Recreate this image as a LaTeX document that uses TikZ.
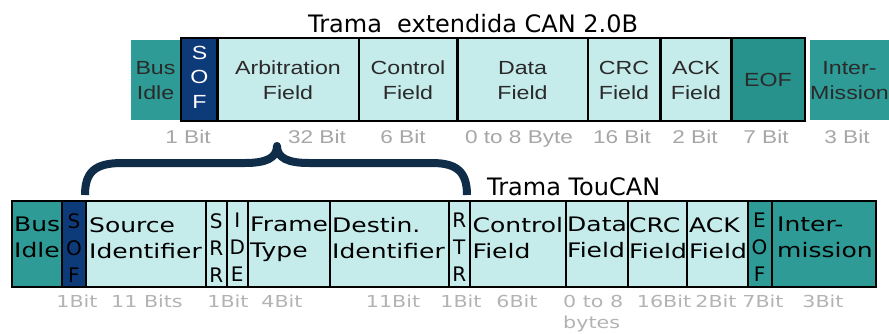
\documentclass[tikz,border=0pt]{standalone}
\usepackage{fontspec}
\setmainfont{DejaVu Sans}
\newfontfamily\dvs{DejaVu Sans}
\newfontfamily\dvsw[FakeStretch=1.25]{DejaVu Sans}
\newfontfamily\lsw[FakeStretch=1.22]{Liberation Sans}
\definecolor{tealA}{HTML}{2E9B96}
\definecolor{tealB}{HTML}{27918B}
\definecolor{navy}{HTML}{0D3B7A}
\definecolor{pale}{HTML}{C6EBEB}
\definecolor{bracec}{HTML}{0F2D48}
\definecolor{toptxt}{HTML}{2A2A2A}
\definecolor{toplbl}{HTML}{A6A6A6}
\definecolor{botlbl}{HTML}{B3B3B3}
\tikzset{
  box/.style={rectangle, inner sep=0, outer sep=0, anchor=north west},
  topfld/.style={box, draw=black, line width=2.5pt, fill=pale},
  botfld/.style={box, draw=black, line width=2pt, fill=pale},
  toptext/.style={inner sep=0, anchor=north, align=center, text=toptxt,
    font=\lsw\fontsize{19}{25}\selectfont},
  bottext/.style={inner sep=0, anchor=north west, align=left, text=black,
    font=\dvsw\fontsize{20}{26}\selectfont},
  vertext/.style={inner sep=0, anchor=north, align=center,
    font=\dvs\fontsize{20}{27}\selectfont},
  toplabel/.style={inner sep=0, anchor=base, text=toplbl,
    font=\lsw\fontsize{18.5}{22}\selectfont},
  botlabel/.style={inner sep=0, anchor=base, text=botlbl,
    font=\dvsw\fontsize{16.5}{21}\selectfont},
  title/.style={inner sep=0, anchor=base west, text=black,
    font=\dvs\fontsize{24}{28}\selectfont},
  brace/.style={draw=bracec, line width=8pt, line join=round, line cap=butt},
}
\begin{document}
\begin{tikzpicture}[x=1pt,y=-1pt]
\useasboundingbox (0,0) rectangle (889,333);

% ---------- extended CAN 2.0B frame ----------
\node[title] (t1) at (308,32) {Trama\ \ extendida CAN 2.0B};

\node[box, fill=tealA, minimum width=49pt, minimum height=80pt] (tbus) at (131,40) {};
\node[topfld, fill=navy, minimum width=36.5pt, minimum height=83pt] (tsof) at (181,38) {};
\node[topfld, minimum width=141.5pt, minimum height=83pt] (tarb) at (217.5,38) {};
\node[topfld, minimum width=98.5pt, minimum height=83pt] (tctl) at (359,38) {};
\node[topfld, minimum width=130.5pt, minimum height=83pt] (tdat) at (457.5,38) {};
\node[topfld, minimum width=72.5pt, minimum height=83pt] (tcrc) at (588,38) {};
\node[topfld, minimum width=71pt, minimum height=83pt] (tack) at (660.5,38) {};
\node[topfld, fill=tealB, minimum width=73.5pt, minimum height=83pt] (teof) at (731.5,38) {};
\node[box, fill=tealA, minimum width=79pt, minimum height=80pt] (tint) at (810,40) {};

\node[toptext] (xbus) at (155.5,61) {Bus\\Idle};
\node[toptext, text=white, font=\lsw\fontsize{19}{24.5}\selectfont] (xsof) at (199.5,46) {S\\O\\F};
\node[toptext] (xarb) at (288,61) {Arbitration\\Field};
\node[toptext] (xctl) at (408,61) {Control\\Field};
\node[toptext] (xdat) at (522.5,61) {Data\\Field};
\node[toptext] (xcrc) at (624,61) {CRC\\Field};
\node[toptext] (xack) at (696,61) {ACK\\Field};
\node[toptext] (xeof) at (768,73) {EOF};
\node[toptext] (xint) at (849.5,61) {Inter-\\Mission};

\node[toplabel] (l1) at (188,143) {1 Bit};
\node[toplabel] (l2) at (317,143) {32 Bit};
\node[toplabel] (l3) at (403,143) {6 Bit};
\node[toplabel] (l4) at (519,143) {0 to 8 Byte};
\node[toplabel] (l5) at (622,143) {16 Bit};
\node[toplabel] (l6) at (695,143) {2 Bit};
\node[toplabel] (l7) at (766,143) {7 Bit};
\node[toplabel] (l8) at (847,143) {3 Bit};

% ---------- brace: arbitration field expanded ----------
\draw[brace] (85,195) .. controls (85,172) and (95,163) .. (122,163)
  -- (245,163) .. controls (266,163) and (277,158) .. (277,146)
  .. controls (277,158) and (288,163) .. (309,163)
  -- (432,163) .. controls (457,163) and (467,172) .. (467,195);

% ---------- TouCAN frame ----------
\node[title] (t2) at (487,195) {Trama TouCAN};

\node[botfld, fill=tealA, minimum width=50pt, minimum height=86pt] (bbus) at (12,201) {};
\node[botfld, fill=navy, minimum width=24pt, minimum height=86pt] (bsof) at (62,201) {};
\node[botfld, minimum width=120pt, minimum height=86pt] (bsrc) at (86,201) {};
\node[botfld, minimum width=20.5pt, minimum height=86pt] (bsrr) at (206,201) {};
\node[botfld, minimum width=21.5pt, minimum height=86pt] (bide) at (226.5,201) {};
\node[botfld, minimum width=81.5pt, minimum height=86pt] (bfty) at (248,201) {};
\node[botfld, minimum width=119pt, minimum height=86pt] (bdst) at (329.5,201) {};
\node[botfld, minimum width=21.5pt, minimum height=86pt] (brtr) at (448.5,201) {};
\node[botfld, minimum width=95.5pt, minimum height=86pt] (bctl) at (470,201) {};
\node[botfld, minimum width=62pt, minimum height=86pt] (bdat) at (565.5,201) {};
\node[botfld, minimum width=59.5pt, minimum height=86pt] (bcrc) at (627.5,201) {};
\node[botfld, minimum width=60.5pt, minimum height=86pt] (back) at (687,201) {};
\node[botfld, fill=tealA, minimum width=24pt, minimum height=86pt] (beof) at (747.5,201) {};
\node[botfld, fill=tealA, minimum width=104.5pt, minimum height=86pt] (bint) at (771.5,201) {};

\node[bottext] (ybus) at (14,217) {Bus\\Idle};
\node[vertext] (ysof) at (74,213) {S\\O\\F};
\node[bottext] (ysrc) at (89,217) {Source\\Identifier};
\node[vertext] (ysrr) at (216.25,213) {S\\R\\R};
\node[vertext] (yide) at (237.25,213) {I\\D\\E};
\node[bottext] (yfty) at (250,217) {Frame\\Type};
\node[bottext] (ydst) at (332,217) {Destin.\\Identifier};
\node[vertext] (yrtr) at (459.25,213) {R\\T\\R};
\node[bottext] (yctl) at (472.5,217) {Control\\Field};
\node[bottext] (ydat) at (567,217) {Data\\Field};
\node[bottext] (ycrc) at (629,217) {CRC\\Field};
\node[bottext] (yack) at (689,217) {ACK\\Field};
\node[vertext] (yeof) at (759.5,213) {E\\O\\F};
\node[bottext] (yint) at (777,217) {Inter-\\mission};

\node[botlabel] (m1) at (77,307) {1Bit};
\node[botlabel] (m2) at (147,307) {11 Bits};
\node[botlabel] (m3) at (228,307) {1Bit};
\node[botlabel] (m4) at (282,307) {4Bit};
\node[botlabel] (m5) at (393,307) {11Bit};
\node[botlabel] (m6) at (461,307) {1Bit};
\node[botlabel] (m7) at (517,307) {6Bit};
\node[botlabel, anchor=north west, align=left] (m8) at (563,295) {0 to 8\\bytes};
\node[botlabel] (m9) at (664,307) {16Bit};
\node[botlabel] (m10) at (716,307) {2Bit};
\node[botlabel] (m11) at (763,307) {7Bit};
\node[botlabel] (m12) at (823,307) {3Bit};
\end{tikzpicture}
\end{document}
